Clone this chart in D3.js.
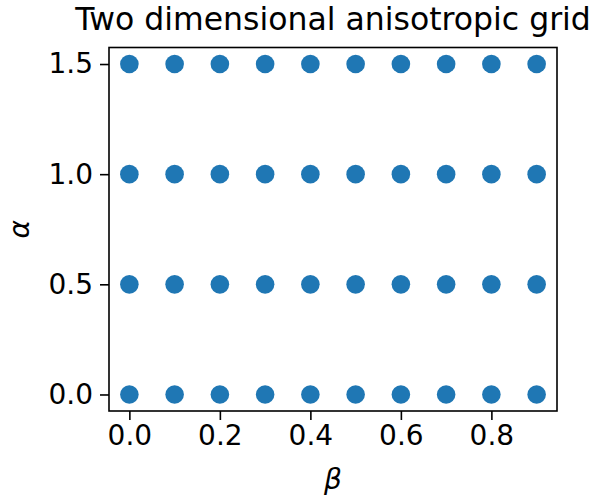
<!DOCTYPE html>
<html>
<head>
<meta charset="utf-8">
<script src="https://cdn.jsdelivr.net/npm/d3@7"></script>
<style>
	body { margin: 0; background: #fff; }
	text { font-family: 'DejaVu Sans', sans-serif; }
</style>
</head>
<body>
<svg id="chart" width="595" height="497"></svg>
<script>
// grid values
var betaValues = [ 0.0, 0.1, 0.2, 0.3, 0.4, 0.5, 0.6, 0.7, 0.8, 0.9 ];
var alphaValues = [ 0.0, 0.5, 1.0, 1.5 ];
var xTicks = [ 0.0, 0.2, 0.4, 0.6, 0.8 ];
var yTicks = [ 0.0, 0.5, 1.0, 1.5 ];
var title = 'Two dimensional anisotropic grid';

var svg = d3.select( '#chart' );
var margin = { top: 47.5, right: 38, bottom: 86, left: 109 };
var width = +svg.attr( 'width' ) - margin.left - margin.right;
var height = +svg.attr( 'height' ) - margin.top - margin.bottom;
var g = svg.append( 'g' )
	.attr( 'transform', 'translate(' + margin.left + ',' + margin.top + ')' );

// matplotlib style 5% margins
var x = d3.scaleLinear().domain( [ -0.045, 0.945 ] ).range( [ 0, width ] );
var y = d3.scaleLinear().domain( [ -0.075, 1.575 ] ).range( [ height, 0 ] );

var points = [];
alphaValues.forEach( function( a ) {
	betaValues.forEach( function( b ) {
		points.push( { beta: b, alpha: a } );
	} );
} );

g.selectAll( 'circle' )
	.data( points )
	.enter().append( 'circle' )
	.attr( 'cx', function( d ) { return x( d.beta ); } )
	.attr( 'cy', function( d ) { return y( d.alpha ); } )
	.attr( 'r', 9.3 )
	.attr( 'fill', '#1f77b4' );

var xAxis = g.append( 'g' )
	.attr( 'transform', 'translate(0,' + height + ')' )
	.call( d3.axisBottom( x ).tickValues( xTicks ).tickFormat( d3.format( '.1f' ) ).tickSize( 9 ).tickPadding( 5 ) );

var yAxis = g.append( 'g' )
	.call( d3.axisLeft( y ).tickValues( yTicks ).tickFormat( d3.format( '.1f' ) ).tickSize( 9 ).tickPadding( 7 ) );

[ xAxis, yAxis ].forEach( function( ax ) {
	ax.select( '.domain' ).remove();
	ax.selectAll( 'line' ).attr( 'stroke', '#000' ).attr( 'stroke-width', 1.6 );
	ax.selectAll( 'text' )
		.attr( 'fill', '#000' )
		.style( 'font-size', '28px' );
} );

// frame
g.append( 'rect' )
	.attr( 'width', width )
	.attr( 'height', height )
	.attr( 'fill', 'none' )
	.attr( 'stroke', '#000' )
	.attr( 'stroke-width', 1.6 );

svg.append( 'text' )
	.attr( 'x', margin.left + width / 2 )
	.attr( 'y', 30 )
	.attr( 'text-anchor', 'middle' )
	.style( 'font-size', '31.5px' )
	.text( title );

svg.append( 'text' )
	.attr( 'x', margin.left + width / 2 )
	.attr( 'y', 489 )
	.attr( 'text-anchor', 'middle' )
	.style( 'font-size', '28px' )
	.style( 'font-style', 'italic' )
	.text( 'β' );

svg.append( 'text' )
	.attr( 'transform', 'translate(29,' + ( margin.top + height / 2 ) + ') rotate(-90)' )
	.attr( 'text-anchor', 'middle' )
	.style( 'font-size', '28px' )
	.style( 'font-style', 'italic' )
	.text( 'α' );
</script>
</body>
</html>
